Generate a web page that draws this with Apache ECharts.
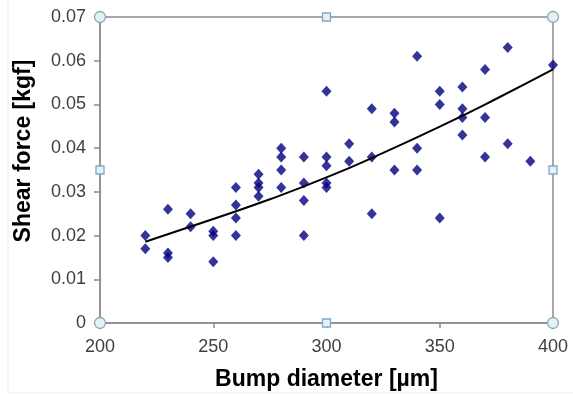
<!DOCTYPE html>
<html>
<head>
<meta charset="utf-8">
<script src="https://cdn.jsdelivr.net/npm/echarts@6/dist/echarts.min.js"></script>
<style>
  html, body { margin: 0; padding: 0; background: #ffffff; }
  #chart { width: 573px; height: 396px; }
</style>
</head>
<body>
<div id="chart"></div>
<script>
// Bump diameter (µm) of each measured sample
const diameters = [
  220, 220,
  230, 230, 230,
  240, 240,
  250, 250, 250,
  260, 260, 260, 260,
  270, 270, 270, 270,
  280, 280, 280, 280,
  290, 290, 290, 290,
  300, 300, 300, 300, 300,
  310, 310,
  320, 320, 320,
  330, 330, 330,
  340, 340, 340,
  350, 350, 350,
  360, 360, 360, 360,
  370, 370, 370,
  380, 380,
  390,
  400
];
// Measured shear force (kgf) for each sample above
const shearForce = [
  0.020, 0.017,
  0.026, 0.016, 0.015,
  0.025, 0.022,
  0.021, 0.020, 0.014,
  0.031, 0.027, 0.024, 0.020,
  0.034, 0.032, 0.031, 0.029,
  0.040, 0.038, 0.035, 0.031,
  0.038, 0.032, 0.028, 0.020,
  0.053, 0.038, 0.036, 0.032, 0.031,
  0.041, 0.037,
  0.049, 0.038, 0.025,
  0.048, 0.046, 0.035,
  0.061, 0.040, 0.035,
  0.053, 0.050, 0.024,
  0.054, 0.049, 0.047, 0.043,
  0.058, 0.047, 0.038,
  0.063, 0.041,
  0.037,
  0.059
];
// Trend curve through the scatter
const trendX = [220, 250, 275, 300, 325, 350, 375, 400];
const trendY = [0.0186, 0.0238, 0.0283, 0.0333, 0.0389, 0.0449, 0.0513, 0.0580];

// Axis tick values
const xTicks = [200, 250, 300, 350, 400];
const yTicks = [0, 0.01, 0.02, 0.03, 0.04, 0.05, 0.06, 0.07];

const points = diameters.map((d, i) => [d, shearForce[i]]);
const trend = trendX.map((d, i) => [d, trendY[i]]);

const xMin = xTicks[0], xMax = xTicks[xTicks.length - 1];
const yMin = yTicks[0], yMax = yTicks[yTicks.length - 1];
const xMid = (xMin + xMax) / 2, yMid = (yMin + yMax) / 2;

// Plot-area handles: circles on the corners, squares on the side midpoints
const circleStyle = { color: '#dff2f4', borderColor: '#8ea6ad', borderWidth: 1.3 };
const squareStyle = { color: '#e2f1fb', borderColor: '#7fa9c6', borderWidth: 1.3 };
const handles = [
  { coord: [xMin, yMax], symbol: 'circle', symbolSize: 11, itemStyle: circleStyle },
  { coord: [xMax, yMax], symbol: 'circle', symbolSize: 11, itemStyle: circleStyle },
  { coord: [xMin, yMin], symbol: 'circle', symbolSize: 11, itemStyle: circleStyle },
  { coord: [xMax, yMin], symbol: 'circle', symbolSize: 11, itemStyle: circleStyle },
  { coord: [xMid, yMax], symbol: 'rect', symbolSize: 8, itemStyle: squareStyle },
  { coord: [xMid, yMin], symbol: 'rect', symbolSize: 8, itemStyle: squareStyle },
  { coord: [xMin, yMid], symbol: 'rect', symbolSize: 8, itemStyle: squareStyle },
  { coord: [xMax, yMid], symbol: 'rect', symbolSize: 8, itemStyle: squareStyle }
];

const fontFamily = 'Liberation Sans, Arial, sans-serif';
const axisGray = '#8c8c8c';
const labelFont = { fontFamily: fontFamily, fontSize: 18, color: '#404040' };
const titleFont = { fontFamily: fontFamily, fontSize: 23, fontWeight: 'bold', color: '#000000' };

const chart = echarts.init(document.getElementById('chart'), null, { renderer: 'canvas' });
chart.setOption({
  animation: false,
  backgroundColor: '#ffffff',
  graphic: [
    {
      // faint outer frame of the chart object
      type: 'rect',
      shape: { x: 8, y: -2, width: 570, height: 395 },
      style: { fill: 'none', stroke: '#ececec', lineWidth: 1 },
      silent: true,
      z: -1
    },
    {
      // vertical axis title, reading bottom to top
      type: 'text',
      x: 24,
      y: 151,
      rotation: Math.PI / 2,
      style: {
        text: 'Shear force [kgf]',
        font: 'bold 23px ' + fontFamily,
        fill: '#000000',
        align: 'center',
        verticalAlign: 'middle'
      },
      silent: true
    }
  ],
  grid: {
    left: 100, right: 20, top: 17, bottom: 71,
    show: true, borderColor: axisGray, borderWidth: 1.5, backgroundColor: 'transparent'
  },
  xAxis: {
    type: 'value',
    min: xMin, max: xMax, interval: 50,
    name: 'Bump diameter [µm]',
    nameLocation: 'middle', nameGap: 45,
    nameTextStyle: titleFont,
    axisLine: { show: true, lineStyle: { color: axisGray, width: 1.5 } },
    axisTick: { show: true, inside: false, length: 5, lineStyle: { color: axisGray, width: 1.5 } },
    axisLabel: Object.assign({ margin: 15 }, labelFont),
    splitLine: { show: false }
  },
  yAxis: {
    type: 'value',
    min: yMin, max: yMax, interval: 0.01,
    axisLine: { show: true, lineStyle: { color: axisGray, width: 1.5 } },
    axisTick: { show: true, inside: false, length: 6, lineStyle: { color: axisGray, width: 1.5 } },
    axisLabel: Object.assign({
      margin: 14,
      formatter: v => String(parseFloat(v.toFixed(2)))
    }, labelFont),
    splitLine: { show: false }
  },
  series: [
    {
      name: 'Shear force',
      type: 'scatter',
      data: points,
      symbol: 'diamond',
      symbolSize: [10, 11],
      itemStyle: { color: '#000080' },
      z: 3
    },
    {
      name: 'Trend',
      type: 'line',
      data: trend,
      smooth: true,
      showSymbol: false,
      lineStyle: { color: '#000000', width: 2 },
      z: 4
    },
    {
      name: 'Handles',
      type: 'scatter',
      data: [],
      clip: false,
      silent: true,
      z: 6,
      markPoint: { data: handles, label: { show: false }, silent: true }
    }
  ]
});
</script>
</body>
</html>
